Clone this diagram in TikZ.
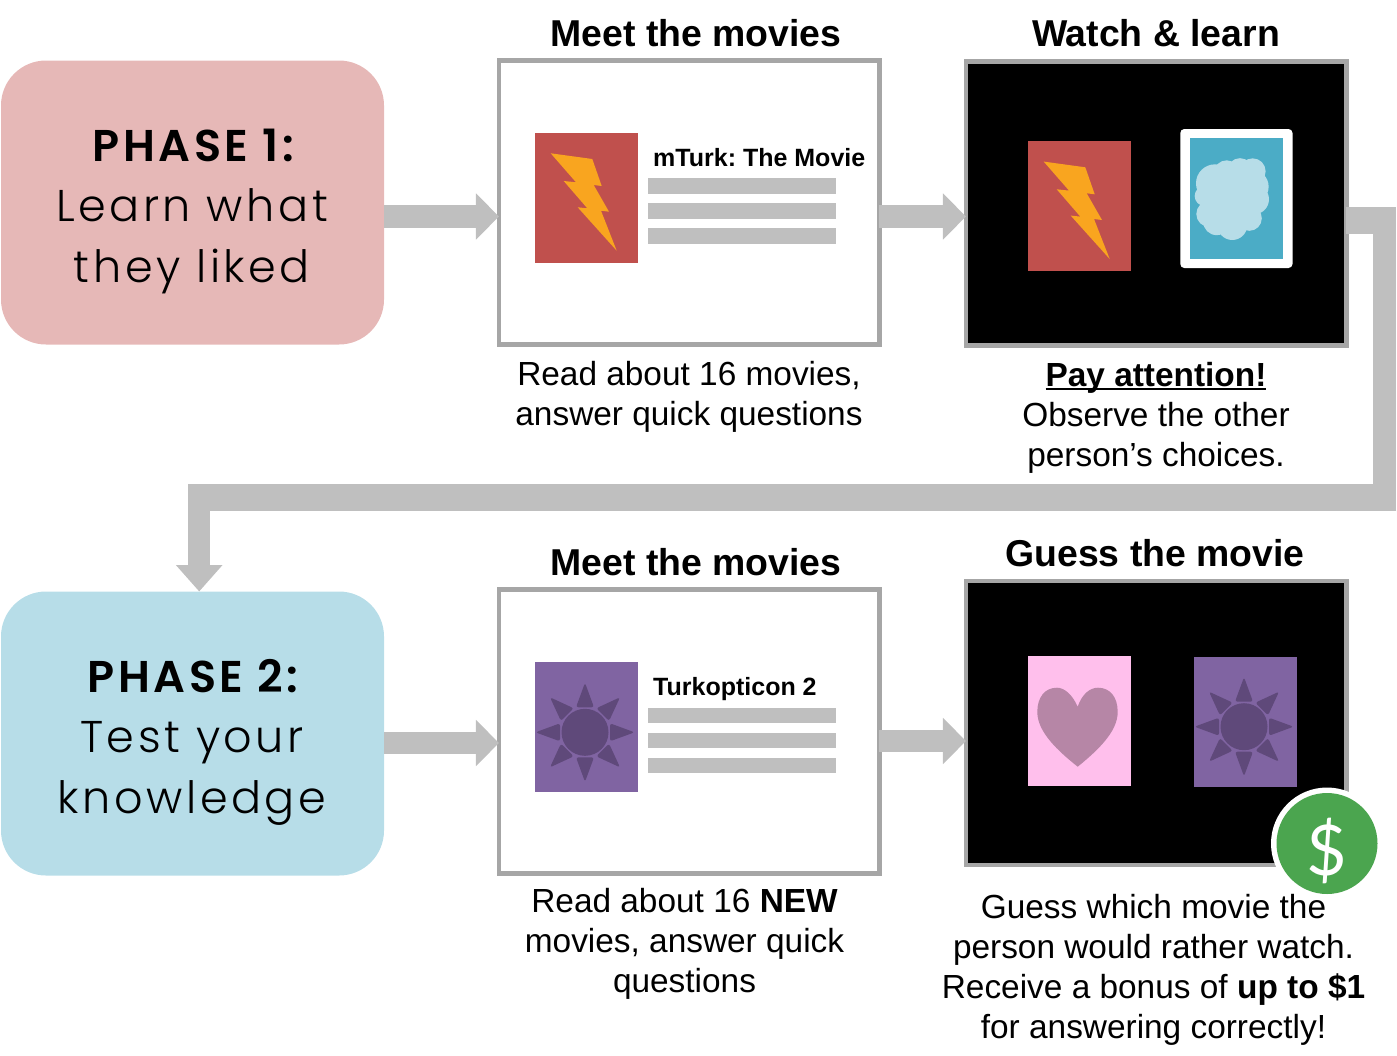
\documentclass[tikz,border=0pt]{standalone}
\usepackage{fontspec}
\setmainfont{Liberation Sans}
\newfontfamily\phasefont[UprightFont=* Light,BoldFont=* SemiBold,LetterSpace=8]{Poppins}
\newfontfamily\dollarfont{Lato}
\usetikzlibrary{arrows.meta,calc}
\definecolor{linegray}{HTML}{BFBFBF}
\definecolor{framegray}{HTML}{A6A6A6}
\definecolor{phaseone}{HTML}{E6B8B7}
\definecolor{phasetwo}{HTML}{B7DDE8}
\definecolor{pred}{HTML}{C0504D}
\definecolor{bolt}{HTML}{F9A51F}
\definecolor{pblue}{HTML}{4BACC6}
\definecolor{ppurple}{HTML}{8064A2}
\definecolor{sundark}{HTML}{5F497A}
\definecolor{ppink}{HTML}{FFBFEC}
\definecolor{heartc}{HTML}{B686A6}
\definecolor{moneyg}{HTML}{4BA54F}
\newlength\ulw
\newcommand{\payul}[1]{\settowidth\ulw{#1}\rlap{\rule[-3.8pt]{\ulw}{2.6pt}}#1}
\newcommand{\boltposter}[2]{%
 \begin{scope}[shift={(#1,#2)}]
 \fill[pred] (0,0) rectangle (103,130);
 \fill[bolt] (15.7,20.3)--(57.3,26)--(66.7,53)--(58.7,52)--(74,78.7)--(66,77.7)--(81.7,117.7)--(42.7,74.3)--(52.3,75.3)--(28.7,48)--(41,49.3)--cycle;
 \end{scope}}
\newcommand{\sunposter}[2]{%
 \begin{scope}[shift={(#1,#2)}]
 \fill[ppurple] (0,0) rectangle (103,130);
 \fill[sundark] (50,70) circle (23.5);
 \foreach \a in {0,45,...,315}{
  \fill[sundark,rounded corners=2.5pt,rotate around={\a:(50,70)}] (41,45)--(50,20.5)--(59,45)--cycle;
 }
 \end{scope}}
\tikzset{
 x=1pt,y=-1pt,
 phasebox/.style={rounded corners=45pt,minimum width=383pt,minimum height=284pt,inner sep=0pt,outer sep=0pt},
 frame/.style={draw=framegray,line width=4.2pt,minimum width=380.5pt,minimum height=284pt,inner sep=0pt,outer sep=0pt},
 head/.style={font=\fontsize{37.4}{44}\selectfont\bfseries,anchor=base,inner sep=0pt},
 body/.style={font=\fontsize{33.4}{40}\selectfont,align=center,anchor=base,inner sep=0pt},
 phasetxt/.style={font=\fontsize{44.5}{60.5}\selectfont\phasefont,align=center,anchor=base,inner sep=0pt},
 itemtitle/.style={font=\fontsize{25}{30}\selectfont\bfseries,anchor=base west,inner sep=0pt},
 bar/.style={fill=linegray,minimum width=188pt,minimum height=15.5pt,inner sep=0pt,outer sep=0pt,anchor=west},
 flow/.style={draw=linegray,line width=22.6pt,-{Triangle[length=23pt,width=45pt]}},
}
\begin{document}
\frenchspacing
\begin{tikzpicture}
\useasboundingbox (0,0) rectangle (1397,1055);
\node[phasebox,fill=phaseone] (p1) at (192.5,202.5) {};
\node[phasebox,fill=phasetwo] (p2) at (192.5,733.5) {};
\node[frame,fill=white] (b1) at (689.2,202.5) {};
\node[frame,fill=black] (b2) at (1156.2,203.5) {};
\node[frame,fill=white] (b3) at (689.2,731.5) {};
\node[frame,fill=black] (b4) at (1156.2,723) {};
% arrows
\draw[flow] ([yshift=-14pt]p1.east) -- ([yshift=-14pt]b1.west);
\draw[flow] ([yshift=-14pt]b1.east) -- ([yshift=-13pt]b2.west);
\draw[flow] ([yshift=-9.5pt]p2.east) -- ([yshift=-11.5pt]b3.west);
\draw[flow] ([yshift=-9.5pt]b3.east) -- ([yshift=-18pt]b4.west);
\coordinate (e1) at (1396.3,220.8);
\coordinate (e2a) at (1384.8,207.3);
\coordinate (e2b) at (1384.8,510.7);
\coordinate (e3a) at (1396.3,497.3);
\coordinate (e3b) at (188,497.3);
\coordinate (e4) at (199.2,484);
\draw[linegray,line width=27pt] ([yshift=-17.3pt]b2.east) -- (e1);
\draw[linegray,line width=23pt] (e2a) -- (e2b);
\draw[linegray,line width=26.7pt] (e3a) -- (e3b);
\draw[draw=linegray,line width=22.4pt,-{Triangle[length=26.5pt,width=45pt]}] (e4) -- (p2.north -| e4);
% phase text
\node[phasetxt] (t1) at (192,282) {\hspace*{6pt}\textbf{PHASE 1:}\\Learn what\\they liked};
\node[phasetxt] (t2) at (192,813) {\hspace*{6pt}\textbf{PHASE 2:}\\Test your\\knowledge};
% headings
\node[head] (h1) at (696,46) {Meet the movies};
\node[head] (h2) at (1156,46) {Watch \& learn};
\node[head] (h3) at (696,575) {Meet the movies};
\node[head] (h4) at (1155,566) {Guess the movie};
% top middle content
\boltposter{535}{133}
\node[itemtitle] (n1) at (653,166) {mTurk: The Movie};
\node[bar] (a1) at (648,186) {};
\node[bar] (a2) at (648,211) {};
\node[bar] (a3) at (648,236) {};
% top right content
\boltposter{1028}{141.3}
\fill[white,rounded corners=4pt] (1180.3,129) rectangle (1292.5,268);
\fill[pblue] (1190,138) rectangle (1283,258.7);
\begin{scope}[shift={(1000,110)},x=0.3333pt,y=-0.3333pt]
 \fill[phasetwo] (695,265) circle [radius=30pt]
  (720,182) circle [radius=12.5pt] (758,184) circle [radius=13pt] (680,190) circle [radius=13pt]
  (645,220) circle [radius=19pt] (755,230) circle [radius=17pt] (762,268) circle [radius=15pt]
  (614,258) circle [radius=10pt] (628,312) circle [radius=13pt] (650,335) circle [radius=13.5pt]
  (697,345) circle [radius=15pt] (748,325) circle [radius=12.5pt];
\end{scope}
% bottom middle content
\sunposter{535}{662.3}
\node[itemtitle] (n2) at (653,695) {Turkopticon 2};
\node[bar] (c1) at (648,715.5) {};
\node[bar] (c2) at (648,740.5) {};
\node[bar] (c3) at (648,765.5) {};
% bottom right content
\begin{scope}[shift={(1028,656)}]
 \fill[ppink] (0,0) rectangle (103,130);
 \fill[heartc] (49.7,50.7) .. controls (44,38) and (36,31.7) .. (29,31.7)
  .. controls (17,31.7) and (9.3,41) .. (9.3,56)
  .. controls (9.3,76) and (30,95) .. (49.7,110.7)
  .. controls (69,95) and (89.7,76) .. (89.7,56)
  .. controls (89.7,41) and (82,31.7) .. (70,31.7)
  .. controls (62,31.7) and (54,38) .. (49.7,50.7) -- cycle;
\end{scope}
\sunposter{1194}{656.7}
% dollar
\node[circle,fill=white,minimum size=112pt,inner sep=0pt] (m0) at (1327,843.5) {};
\node[circle,fill=moneyg,minimum size=101pt,inner sep=0pt] (m1) at (1327,843.5) {};
\node[text=white,font=\fontsize{70}{70}\selectfont\dollarfont,inner sep=0pt] (m2) at (1327,851) {\$};
% captions
\node[body] (d1) at (689,425.5) {Read about 16 movies,\\answer quick questions};
\node[body] (d2) at (1156,466.5) {\textbf{\payul{Pay attention!}}\\Observe the other\\person’s choices.};
\node[body] (d3) at (684.5,992) {Read about 16 \textbf{NEW}\\movies, answer quick\\questions};
\node[body] (d4) at (1153.5,1038) {Guess which movie the\\person would rather watch.\\Receive a bonus of \textbf{up to \$1}\\for answering correctly!};
\end{tikzpicture}
\end{document}
